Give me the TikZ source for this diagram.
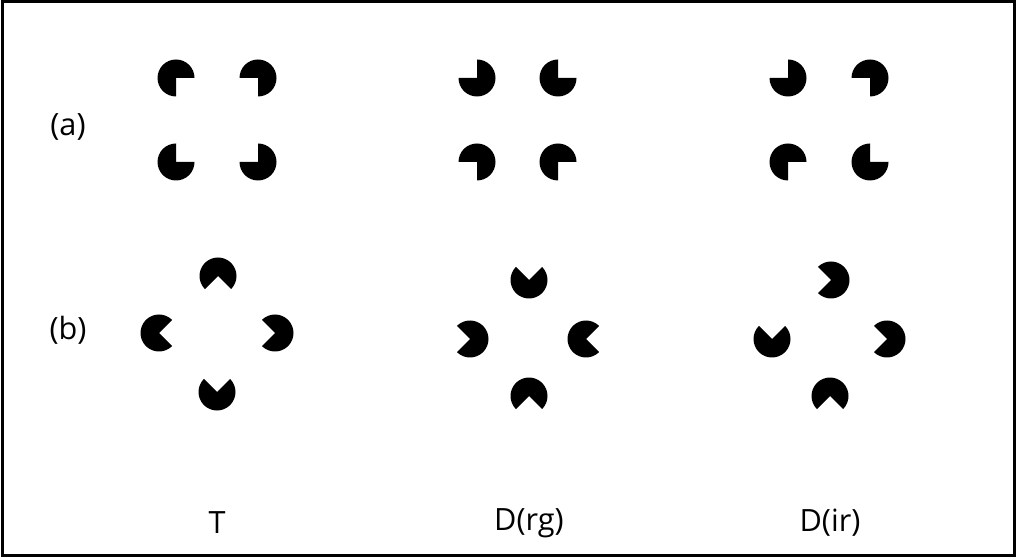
\documentclass[tikz,border=0pt]{standalone}
\usepackage{fontspec}
\setmainfont{Open Sans}
\usepackage{tikz}

% disc with one quarter cut out (quarter starts at angle #3)
\newcommand{\cutdisc}[3]{\fill (#1,#2) -- ++(#3+90:18.5) arc[start angle=#3+90, end angle=#3+360, radius=18.5] -- cycle;}
% disc with a 90 degree wedge cut out, facing direction #3
\newcommand{\wedgedisc}[3]{\fill (#1,#2) -- ++(#3+45:18.5) arc[start angle=#3+45, end angle=#3+315, radius=18.5] -- cycle;}

\begin{document}
\begin{tikzpicture}[x=0.75pt,y=0.75pt]
\tikzset{lbl/.style={font=\fontsize{23}{27}\selectfont, inner sep=0pt}}
\useasboundingbox (0,0) rectangle (1016,557);
\draw[line width=2.25pt] (2,2) rectangle (1014,555);
% row (a)
\node[lbl] (rowa) at (68,430) {(a)};
\cutdisc{176}{479}{270}
\cutdisc{258}{479}{180}
\cutdisc{176}{395}{0}
\cutdisc{258}{395}{90}
\cutdisc{477}{479}{90}
\cutdisc{558}{479}{0}
\cutdisc{477}{395}{180}
\cutdisc{558}{395}{270}
\cutdisc{788}{479}{90}
\cutdisc{870}{479}{180}
\cutdisc{788}{395}{270}
\cutdisc{870}{395}{0}
% row (b)
\node[lbl] (rowb) at (68,227) {(b)};
\wedgedisc{218}{281}{270}
\wedgedisc{159}{224}{0}
\wedgedisc{275}{224}{180}
\wedgedisc{217}{165}{90}
\wedgedisc{529}{277}{90}
\wedgedisc{470}{218}{180}
\wedgedisc{586}{218}{0}
\wedgedisc{529}{161}{270}
\wedgedisc{831}{277}{180}
\wedgedisc{772}{218}{90}
\wedgedisc{887}{218}{180}
\wedgedisc{830}{161}{270}
% captions
\node[lbl] (capT) at (217,34) {T};
\node[lbl] (capRG) at (529,34) {D(rg)};
\node[lbl] (capIR) at (830,34) {D(ir)};
\end{tikzpicture}
\end{document}
